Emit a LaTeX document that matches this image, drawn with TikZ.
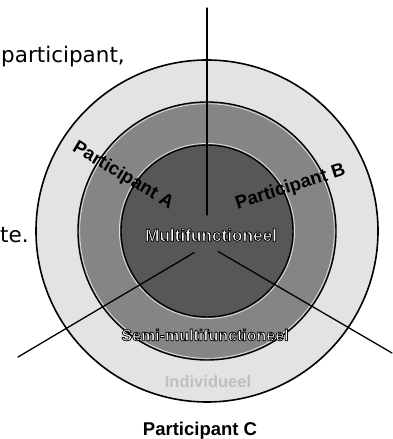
\documentclass[tikz,border=0pt]{standalone}
\usepackage{fontspec}
\usepackage{graphicx}
\usetikzlibrary{calc}
\newfontfamily\bodyfont{DejaVu Sans}
\newfontfamily\labelfont{Liberation Sans}
\newcommand\pfont{\labelfont\bfseries\fontsize{18.5pt}{20pt}\selectfont}
\newcommand\ringtxt[2]{\labelfont\bfseries\fontsize{#1}{#1}\selectfont #2}
\newcommand\strokedtext[1]{\special{pdf:literal direct 2 Tr 0.75 w 0 G}#1\special{pdf:literal direct 0 Tr}}
\definecolor{outerg}{gray}{0.89}
\definecolor{midg}{gray}{0.52}
\definecolor{innerg}{gray}{0.34}
\tikzset{
  ring/.style={circle, draw=black, line width=1.4pt, inner sep=0pt, outer sep=0pt},
  spoke/.style={draw=black, line width=1.3pt, line cap=round},
  halo/.style={draw=white!75!gray, line width=0.8pt},
  bodytext/.style={inner sep=0pt, font=\bodyfont\fontsize{21.5pt}{24pt}\selectfont},
  plabel/.style={inner sep=0pt, anchor=base, font=\pfont}
}
\begin{document}
\begin{tikzpicture}[x=1pt,y=1pt]
\useasboundingbox (0,0) rectangle (392,439);
\fill[white] (0,0) rectangle (392,439);
\coordinate (C) at (207,208);
% rings
\node[ring, fill=outerg, minimum size=342pt, line width=1.6pt] (outer) at (C) {};
\node[ring, fill=midg, minimum size=258pt] (middle) at (C) {};
\draw[halo] (C) circle (127.3);
\node[ring, fill=innerg, minimum size=172pt] (inner) at (C) {};
\draw[halo] (C) circle (87.6);
% spokes
\coordinate (J) at (207,194);
\coordinate (T) at (207,431);
\coordinate (L) at (18,82);
\coordinate (R) at (392,86);
\draw[spoke] ($(J)!30pt!(T)$) -- (T);
\draw[spoke] ($(J)!15pt!(L)$) -- (L);
\draw[spoke] ($(J)!13pt!(R)$) -- (R);
% cut-off body text
\node[bodytext, anchor=base west] (t1) at (1,376) {participant,};
\node[bodytext, anchor=base west] (t2) at (0,196) {te.};
% participant labels
\node[plabel, rotate=-31] (pa) at (120.5,259) {Participant A};
\node[plabel, rotate=17.5] (pb) at (292,247) {Participant B};
% ring labels
\node[inner sep=0, text=white] (multi) at (211,204) {\ringtxt{17.2pt}{\strokedtext{Multifunctioneel}}};
\node[inner sep=0, text=white] (semi) at (205,104) {\ringtxt{16pt}{\strokedtext{Semi-multifunctioneel}}};
\node[inner sep=0, text=gray!50] (indiv) at (208,57) {\ringtxt{16.5pt}{Individueel}};
\node[plabel] (pc) at (200,4) {Participant C};
\end{tikzpicture}
\end{document}
